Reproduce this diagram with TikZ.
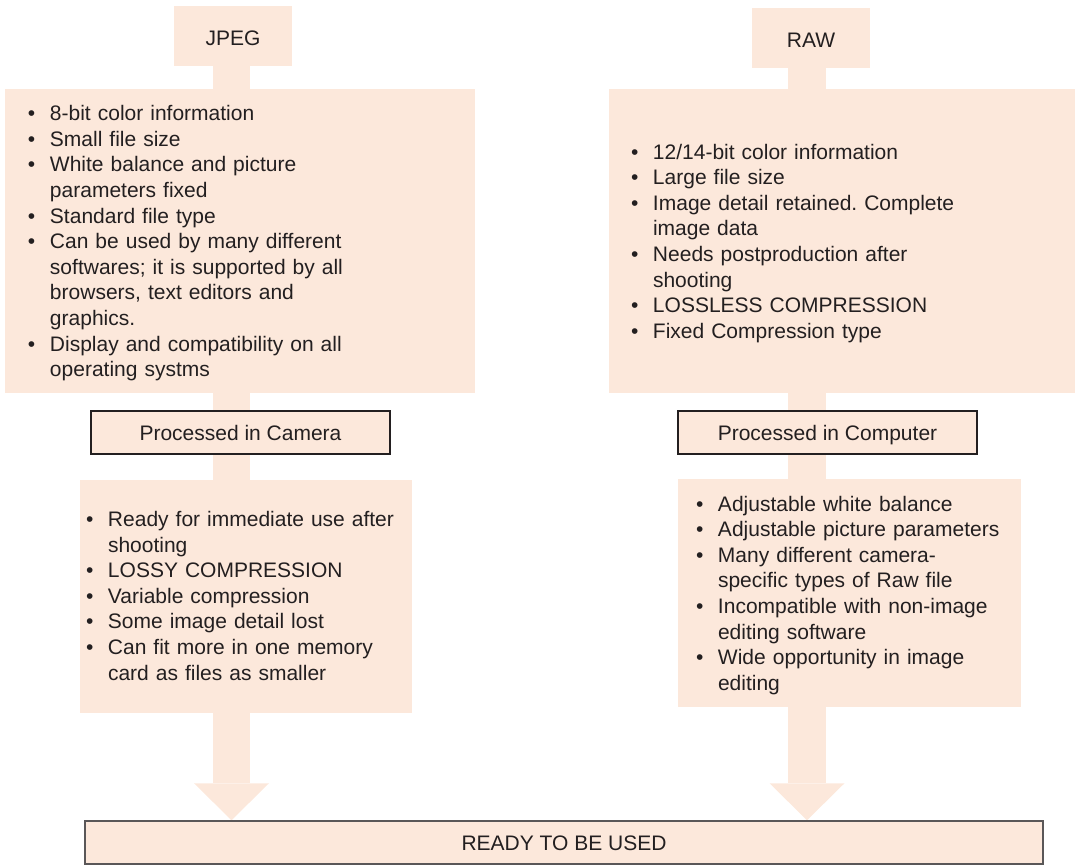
\documentclass[tikz,border=0pt]{standalone}
\usepackage{fontspec}
\setmainfont{Liberation Sans}
\usetikzlibrary{arrows.meta,backgrounds}

% bullet list inside the panels
\newlength\bulletgap
\setlength\bulletgap{22pt}
\newcommand{\bitem}{\par\hangindent=\bulletgap\hangafter=1\noindent\makebox[\bulletgap][l]{\textbullet}}
\frenchspacing

\begin{document}
\begin{tikzpicture}[x=1pt,y=-1pt,
	panel/.style={fill=peach, text=ink, inner sep=0pt, align=left,
		font=\fontsize{21}{25.6}\selectfont},
	tag/.style={fill=peach, text=ink, inner sep=0pt, align=center,
		text height=15pt, text depth=0pt, font=\fontsize{21}{25.6}\selectfont},
	stage/.style={tag, draw=ink, line width=1.3pt},
	stem/.style={draw=peach, line width=37.5pt},
	flow/.style={stem, -{Triangle[width=75pt,length=37pt,line width=0pt]}}]

	\definecolor{peach}{HTML}{FCE8DB}
	\definecolor{ink}{HTML}{231F20}

	\useasboundingbox (0,0) rectangle (1075,864);

	%lanes of the two columns
	\def\laneJ{231.5}
	\def\laneR{807}
	\coordinate (laneJ) at (\laneJ,0);
	\coordinate (laneR) at (\laneR,0);

	% jpeg column
	\node[tag, text height=20pt, minimum width=118pt, minimum height=60pt] (jpeg) at (233,36) {JPEG};

	\node[panel, text width=470pt, minimum height=304pt] (jpegInfo) at (240,241) {\leftskip=23pt
		\bitem 8-bit color information
		\bitem Small file size
		\bitem White balance and picture\newline parameters fixed
		\bitem Standard file type
		\bitem Can be used by many different\newline softwares; it is supported by all\newline browsers, text editors and\newline graphics.
		\bitem Display and compatibility on all\newline operating systms\par\vspace*{6pt}};

	\node[stage, minimum width=299pt, minimum height=43pt] (camera) at (240.5,432.5) {Processed in Camera};

	\node[panel, text width=332pt, minimum height=233pt] (jpegOut) at (246,596.5) {\leftskip=6pt
		\bitem Ready for immediate use after\newline shooting
		\bitem LOSSY COMPRESSION
		\bitem Variable compression
		\bitem Some image detail lost
		\bitem Can fit more in one memory\newline card as files as smaller\par\vspace*{12pt}};

	% raw column
	\node[tag, text height=20pt, minimum width=118pt, minimum height=60pt] (raw) at (811,38) {RAW};

	\node[panel, text width=466pt, minimum height=304pt] (rawInfo) at (842,241) {\leftskip=22pt
		\bitem 12/14-bit color information
		\bitem Large file size
		\bitem Image detail retained. Complete\newline image data
		\bitem Needs postproduction after\newline shooting
		\bitem LOSSLESS COMPRESSION
		\bitem Fixed Compression type\par\vspace*{6pt}};

	\node[stage, minimum width=299pt, minimum height=43pt] (computer) at (827.5,432.5) {Processed in Computer};

	\node[panel, text width=343pt, minimum height=228pt] (rawOut) at (849.5,593) {\leftskip=18pt
		\bitem Adjustable white balance
		\bitem Adjustable picture parameters
		\bitem Many different camera-\newline specific types of Raw file
		\bitem Incompatible with non-image\newline editing software
		\bitem Wide opportunity in image\newline editing\par\vspace*{6pt}};

	% common result
	\node[stage, draw=ink!75, line width=1.5pt, minimum width=958pt, minimum height=43pt] (ready) at (564,842.5) {READY TO BE USED};

	% stems and arrows behind the boxes
	\begin{scope}[on background layer]
		\foreach \a/\b in {jpeg/jpegInfo, jpegInfo/camera, camera/jpegOut}
			\draw[stem] (\a.south -| laneJ) -- (\b.north -| laneJ);
		\foreach \a/\b in {raw/rawInfo, rawInfo/computer, computer/rawOut}
			\draw[stem] (\a.south -| laneR) -- (\b.north -| laneR);
		\draw[flow] (jpegOut.south -| laneJ) -- (ready.north -| laneJ);
		\draw[flow] (rawOut.south -| laneR) -- (ready.north -| laneR);
	\end{scope}

\end{tikzpicture}
\end{document}
